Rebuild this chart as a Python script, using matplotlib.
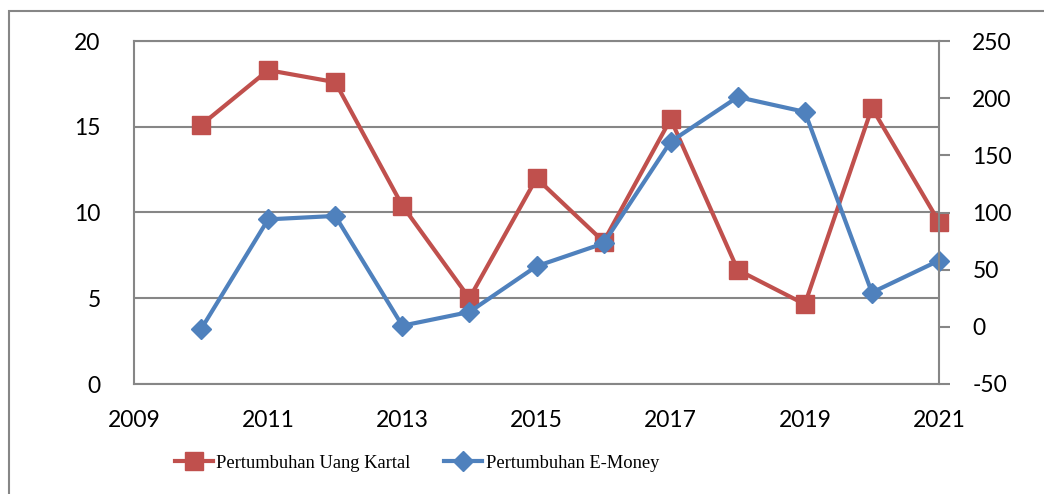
import matplotlib.pyplot as plt
from matplotlib.patches import Rectangle

years = [2010, 2011, 2012, 2013, 2014, 2015, 2016, 2017, 2018, 2019, 2020, 2021]
uang_kartal = [15.1, 18.3, 17.6, 10.4, 5.0, 12.0, 8.3, 15.45, 6.65, 4.65, 16.1, 9.45]
e_money = [-2, 94, 97, 1, 13, 53, 73, 162, 201, 188, 30, 58]

red = '#C0504D'
blue = '#4F81BD'
grey = '#868686'
tick_font = 'Lato'
legend_font = 'Liberation Serif'

plt.rcParams['axes.unicode_minus'] = False

fig = plt.figure(figsize=(10.44, 4.94), dpi=100)
ax = fig.add_axes([134/1044, 1-384/494, (939-134)/1044, (384-41)/494])

# outer frame of the chart
fig.patches.append(Rectangle((9/1044, -0.05), 1.1, 1-11/494+0.05, transform=fig.transFigure,
                             fill=False, edgecolor=grey, linewidth=1.5, zorder=0))

l1, = ax.plot(years, uang_kartal, color=red, lw=3, marker='s', markersize=13,
              label='Pertumbuhan Uang Kartal', clip_on=False)
ax.set_xlim(2009, 2021)
ax.set_ylim(0, 20)
ax.set_xticks(range(2009, 2022, 2))
ax.set_yticks(range(0, 21, 5))
ax.grid(axis='y', color=grey, lw=1.5)
ax.set_axisbelow(True)
ax.tick_params(axis='both', length=0, labelsize=16.5)
ax.tick_params(axis='y', pad=24)
ax.tick_params(axis='x', pad=19)
for s in ['left', 'bottom', 'top']:
    ax.spines[s].set_color(grey)
    ax.spines[s].set_linewidth(1.5)
ax.spines['right'].set_visible(False)

ax2 = ax.twinx()
l2, = ax2.plot(years, e_money, color=blue, lw=3, marker='D', markersize=10,
               label='Pertumbuhan E-Money', clip_on=False)
ax2.set_ylim(-50, 250)
ax2.set_yticks(range(-50, 251, 50))
ax2.tick_params(axis='y', length=8, width=1.5, color=grey, labelsize=16.5, pad=16)
for s in ['left', 'bottom', 'top']:
    ax2.spines[s].set_visible(False)
ax2.spines['right'].set_color(grey)
ax2.spines['right'].set_linewidth(1.5)

for lab in ax.get_xticklabels() + ax.get_yticklabels() + ax2.get_yticklabels():
    lab.set_fontfamily(tick_font)

fig.legend(handles=[l1, l2], loc='center', bbox_to_anchor=(417/1044, 1-463/494), ncol=2,
           frameon=False, prop={'family': legend_font, 'size': 13.3},
           handlelength=2.05, handletextpad=0.2, columnspacing=1.8,
           borderaxespad=0, borderpad=0)

fig.savefig('out.png', dpi=100)
